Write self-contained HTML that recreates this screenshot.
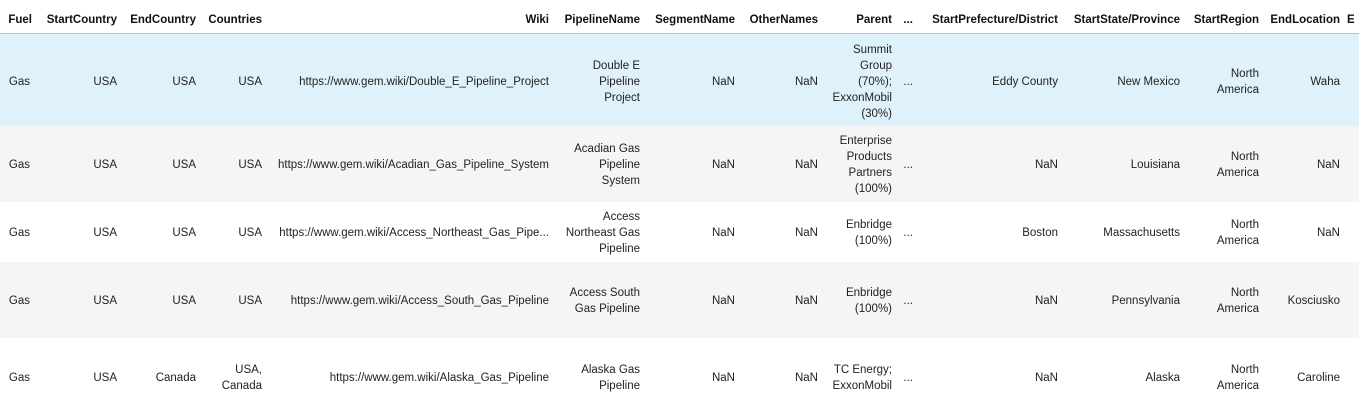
<!DOCTYPE html>
<html><head><meta charset="utf-8"><style>
html,body{margin:0;padding:0;}
body{width:1359px;height:410px;position:relative;overflow:hidden;background:#fff;font-family:"Liberation Sans",sans-serif;font-size:11.5px;color:#222;}
.bg{position:absolute;left:0;width:1359px;}
.c{position:absolute;transform:translateY(calc(-50% + 1px));text-align:right;line-height:16px;white-space:nowrap;}
.h{font-weight:bold;color:#111;top:19px;}
</style></head><body>
<div class="bg" style="top:33px;height:1px;background:#bdbdbd"></div>
<div class="bg" style="top:34px;height:92px;background:#dff2fb"></div>
<div class="bg" style="top:126px;height:76px;background:#f5f5f5"></div>
<div class="bg" style="top:262px;height:76px;background:#f5f5f5"></div>

<div class="c h" style="right:1327px">Fuel</div>
<div class="c h" style="right:1242px">StartCountry</div>
<div class="c h" style="right:1163px">EndCountry</div>
<div class="c h" style="right:1097px">Countries</div>
<div class="c h" style="right:810px">Wiki</div>
<div class="c h" style="right:719px">PipelineName</div>
<div class="c h" style="right:624px">SegmentName</div>
<div class="c h" style="right:541px">OtherNames</div>
<div class="c h" style="right:467px">Parent</div>
<div class="c h" style="right:446px">...</div>
<div class="c h" style="right:301px">StartPrefecture/District</div>
<div class="c h" style="right:179px">StartState/Province</div>
<div class="c h" style="right:100px">StartRegion</div>
<div class="c h" style="right:19px">EndLocation</div>
<div class="c h" style="left:1347px;text-align:left">E</div>

<!-- row 1 -->
<div class="c" style="top:81px;right:1329px">Gas</div>
<div class="c" style="top:81px;right:1242px">USA</div>
<div class="c" style="top:81px;right:1163px">USA</div>
<div class="c" style="top:81px;right:1097px">USA</div>
<div class="c" style="top:81px;right:810px">https://www.gem.wiki/Double_E_Pipeline_Project</div>
<div class="c" style="top:81px;right:719px">Double E<br>Pipeline<br>Project</div>
<div class="c" style="top:81px;right:624px">NaN</div>
<div class="c" style="top:81px;right:541px">NaN</div>
<div class="c" style="top:81px;right:467px">Summit<br>Group<br>(70%);<br>ExxonMobil<br>(30%)</div>
<div class="c" style="top:81px;right:446px">...</div>
<div class="c" style="top:81px;right:301px">Eddy County</div>
<div class="c" style="top:81px;right:179px">New Mexico</div>
<div class="c" style="top:81px;right:100px">North<br>America</div>
<div class="c" style="top:81px;right:19px">Waha</div>

<!-- row 2 -->
<div class="c" style="top:164px;right:1329px">Gas</div>
<div class="c" style="top:164px;right:1242px">USA</div>
<div class="c" style="top:164px;right:1163px">USA</div>
<div class="c" style="top:164px;right:1097px">USA</div>
<div class="c" style="top:164px;right:810px">https://www.gem.wiki/Acadian_Gas_Pipeline_System</div>
<div class="c" style="top:164px;right:719px">Acadian Gas<br>Pipeline<br>System</div>
<div class="c" style="top:164px;right:624px">NaN</div>
<div class="c" style="top:164px;right:541px">NaN</div>
<div class="c" style="top:164px;right:467px">Enterprise<br>Products<br>Partners<br>(100%)</div>
<div class="c" style="top:164px;right:446px">...</div>
<div class="c" style="top:164px;right:301px">NaN</div>
<div class="c" style="top:164px;right:179px">Louisiana</div>
<div class="c" style="top:164px;right:100px">North<br>America</div>
<div class="c" style="top:164px;right:19px">NaN</div>

<!-- row 3 -->
<div class="c" style="top:232px;right:1329px">Gas</div>
<div class="c" style="top:232px;right:1242px">USA</div>
<div class="c" style="top:232px;right:1163px">USA</div>
<div class="c" style="top:232px;right:1097px">USA</div>
<div class="c" style="top:232px;right:810px">https://www.gem.wiki/Access_Northeast_Gas_Pipe...</div>
<div class="c" style="top:232px;right:719px">Access<br>Northeast Gas<br>Pipeline</div>
<div class="c" style="top:232px;right:624px">NaN</div>
<div class="c" style="top:232px;right:541px">NaN</div>
<div class="c" style="top:232px;right:467px">Enbridge<br>(100%)</div>
<div class="c" style="top:232px;right:446px">...</div>
<div class="c" style="top:232px;right:301px">Boston</div>
<div class="c" style="top:232px;right:179px">Massachusetts</div>
<div class="c" style="top:232px;right:100px">North<br>America</div>
<div class="c" style="top:232px;right:19px">NaN</div>

<!-- row 4 -->
<div class="c" style="top:300px;right:1329px">Gas</div>
<div class="c" style="top:300px;right:1242px">USA</div>
<div class="c" style="top:300px;right:1163px">USA</div>
<div class="c" style="top:300px;right:1097px">USA</div>
<div class="c" style="top:300px;right:810px">https://www.gem.wiki/Access_South_Gas_Pipeline</div>
<div class="c" style="top:300px;right:719px">Access South<br>Gas Pipeline</div>
<div class="c" style="top:300px;right:624px">NaN</div>
<div class="c" style="top:300px;right:541px">NaN</div>
<div class="c" style="top:300px;right:467px">Enbridge<br>(100%)</div>
<div class="c" style="top:300px;right:446px">...</div>
<div class="c" style="top:300px;right:301px">NaN</div>
<div class="c" style="top:300px;right:179px">Pennsylvania</div>
<div class="c" style="top:300px;right:100px">North<br>America</div>
<div class="c" style="top:300px;right:19px">Kosciusko</div>

<!-- row 5 -->
<div class="c" style="top:377px;right:1329px">Gas</div>
<div class="c" style="top:377px;right:1242px">USA</div>
<div class="c" style="top:377px;right:1163px">Canada</div>
<div class="c" style="top:377px;right:1097px">USA,<br>Canada</div>
<div class="c" style="top:377px;right:810px">https://www.gem.wiki/Alaska_Gas_Pipeline</div>
<div class="c" style="top:377px;right:719px">Alaska Gas<br>Pipeline</div>
<div class="c" style="top:377px;right:624px">NaN</div>
<div class="c" style="top:377px;right:541px">NaN</div>
<div class="c" style="top:377px;right:467px">TC Energy;<br>ExxonMobil</div>
<div class="c" style="top:377px;right:446px">...</div>
<div class="c" style="top:377px;right:301px">NaN</div>
<div class="c" style="top:377px;right:179px">Alaska</div>
<div class="c" style="top:377px;right:100px">North<br>America</div>
<div class="c" style="top:377px;right:19px">Caroline</div>
</body></html>
